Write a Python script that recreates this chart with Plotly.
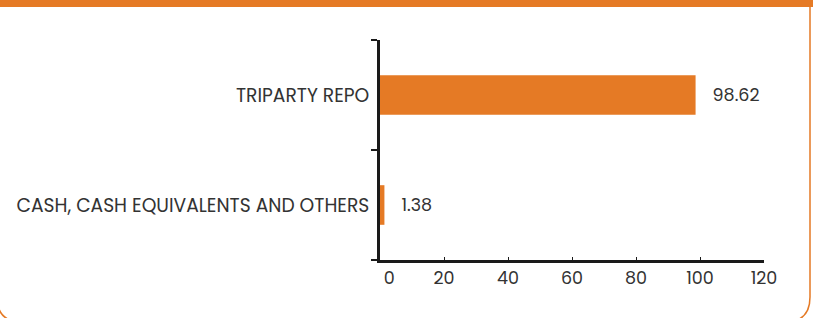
import plotly.graph_objects as go

categories = ["CASH, CASH EQUIVALENTS AND OTHERS", "TRIPARTY REPO"]
values = [1.38, 98.62]
tick_vals = [0, 20, 40, 60, 80, 100, 120]
tick_text = ["\u00a0\u00a0\u00a0\u00a00", "20", "40", "60", "80", "100", "120"]

ORANGE = "#E57A25"
TXT = "#333333"
FONT = "Poppins, Inter, 'Open Sans', sans-serif"

W, H = 813, 318
L, R, T, B = 380, 49, 40, 58
pw, ph = W - L - R, H - T - B

def px(x):
    return (x - L) / pw

def py(y):
    return (H - B - y) / ph

fig = go.Figure()
fig.add_trace(go.Bar(
    y=categories, x=values, orientation="h",
    marker=dict(color=ORANGE, line=dict(width=0)),
    text=values, texttemplate="\u00a0\u00a0\u00a0%{x}",
    textposition="outside", cliponaxis=False,
    textfont=dict(family=FONT, size=17.5, color=TXT),
))

# decorative frame
x0, x1, yb, r = -3, 810, 322, 25
path = (f"M {px(x0)} {py(7)} L {px(x0)} {py(yb - r)} "
        f"Q {px(x0)} {py(yb)} {px(x0 + r)} {py(yb)} "
        f"L {px(x1 - r)} {py(yb)} Q {px(x1)} {py(yb)} {px(x1)} {py(yb - r)} "
        f"L {px(x1)} {py(7)}")
shapes = [
    dict(type="path", xref="paper", yref="paper", path=path,
         line=dict(color=ORANGE, width=1.5), layer="below"),
    dict(type="rect", xref="paper", yref="paper", x0=px(-5), x1=px(W + 5),
         y0=py(7), y1=py(-5), fillcolor=ORANGE, line=dict(width=0), layer="below"),
]

fig.update_layout(
    width=W, height=H,
    margin=dict(l=L, r=R, t=T, b=B),
    paper_bgcolor="white", plot_bgcolor="white",
    showlegend=False,
    bargap=0.64,
    shapes=shapes,
    font=dict(family=FONT, size=17.5, color=TXT),
    xaxis=dict(
        range=[0, 120], tickvals=tick_vals, ticktext=tick_text,
        showgrid=False, zeroline=False,
        showline=True, linecolor="#1a1a1a", linewidth=3,
        ticks="inside", ticklen=3, tickwidth=1, tickcolor="#1a1a1a",
        tickfont=dict(family=FONT, size=17.5, color=TXT),
        fixedrange=True,
    ),
    yaxis=dict(
        categoryorder="array", categoryarray=categories,
        showgrid=False, zeroline=False,
        showline=True, linecolor="#1a1a1a", linewidth=3,
        ticks="outside", ticklen=6, tickwidth=2, tickcolor="#1a1a1a",
        tickson="boundaries", ticklabelstandoff=4,
        tickfont=dict(family=FONT, size=18.7, color=TXT),
        fixedrange=True,
    ),
)

fig.write_html(
    "out.html",
    config={"displayModeBar": False},
    post_script="document.body.style.margin='0';document.body.style.overflow='hidden';",
)
